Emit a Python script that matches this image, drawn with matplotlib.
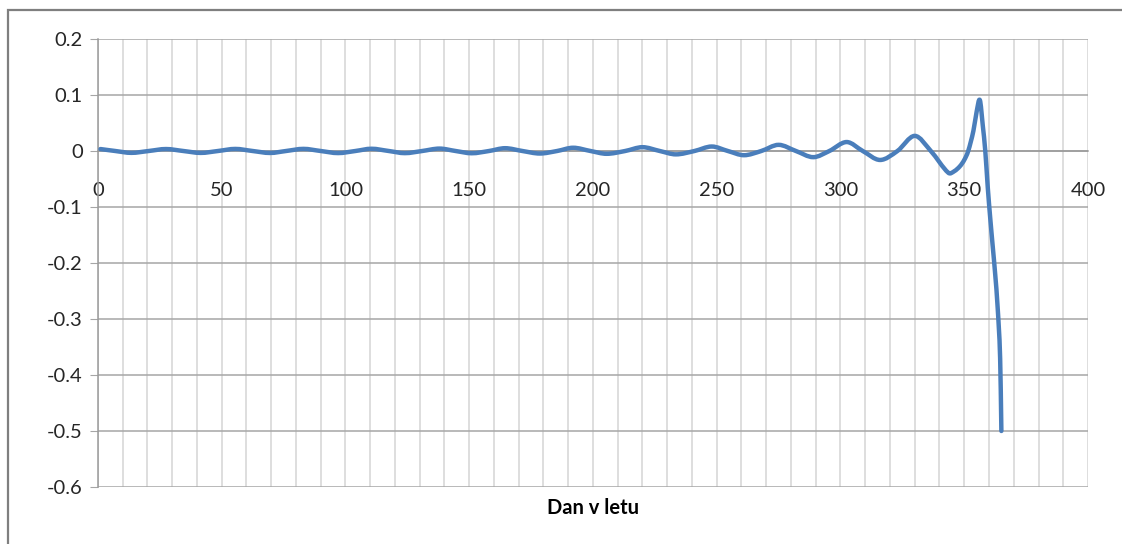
import numpy as np
import matplotlib.pyplot as plt
from matplotlib.path import Path
from matplotlib.patches import PathPatch, Rectangle

# values (day of year -> value)
days = [1, 7, 13.5, 20.5, 27.5, 34.5, 41.5, 48.5, 55.5, 62.5, 69.5, 76, 83, 90,
        97, 104, 110.5, 117.5, 124, 131, 138, 144.5, 151, 158, 164.5, 171.5,
        178.5, 185.5, 192, 199, 205.5, 213, 220, 227, 233.5, 241, 248, 254.5,
        261, 268, 275, 282, 289, 295.5, 302.5, 309, 316, 323, 330, 336.5,
        343.6, 346, 348.3, 350, 351.6, 353.7, 355, 356.3, 357.5, 358.5,
        359.5, 360.5, 361.5, 362.5, 363.5, 364.5, 365]
values = [0.0035, 0, -0.0033, 0, 0.0035, 0, -0.0034, 0, 0.0037, 0, -0.0035, 0,
          0.0038, 0, -0.0037, 0, 0.004, 0, -0.0038, 0, 0.0043, 0, -0.004, 0,
          0.005, 0, -0.0045, 0, 0.0058, 0, -0.005, 0, 0.0068, 0, -0.006, 0,
          0.008, 0, -0.0075, 0, 0.011, 0, -0.011, 0, 0.016, 0, -0.016, 0,
          0.027, 0, -0.039, -0.036, -0.027, -0.016, 0.0, 0.036, 0.07, 0.091,
          0.045, 0.0, -0.065, -0.12, -0.17, -0.22, -0.28, -0.37, -0.5]

x_ticks = [0, 50, 100, 150, 200, 250, 300, 350, 400]
y_ticks = [0.2, 0.1, 0, -0.1, -0.2, -0.3, -0.4, -0.5, -0.6]
y_labels = ['0.2', '0.1', '0', '-0.1', '-0.2', '-0.3', '-0.4', '-0.5', '-0.6']

plt.rcParams['font.family'] = ['Lato', 'DejaVu Sans']


def smooth_path(xs, ys):
    # Excel-like smoothed line: cubic Hermite segments as Bezier curves
    xs = np.asarray(xs, float)
    ys = np.asarray(ys, float)
    n = len(xs)
    m = np.zeros(n)
    for i in range(n):
        a = max(i - 1, 0)
        b = min(i + 1, n - 1)
        m[i] = (ys[b] - ys[a]) / (xs[b] - xs[a])
    verts = [(xs[0], ys[0])]
    codes = [Path.MOVETO]
    for i in range(n - 1):
        h = xs[i + 1] - xs[i]
        verts.append((xs[i] + h / 3, ys[i] + m[i] * h / 3))
        verts.append((xs[i + 1] - h / 3, ys[i + 1] - m[i + 1] * h / 3))
        verts.append((xs[i + 1], ys[i + 1]))
        codes += [Path.CURVE4] * 3
    return Path(verts, codes)


fig = plt.figure(figsize=(11.22, 5.44), dpi=100)
ax = fig.add_axes([0.0873, 0.1048, 0.8824, 0.8235])

ax.set_xlim(0, 400)
ax.set_ylim(-0.6, 0.2)

ax.set_xticks(x_ticks)
ax.set_xticks(np.arange(0, 401, 10), minor=True)
ax.set_yticks(y_ticks)
ax.set_yticklabels(y_labels)

ax.grid(True, which='major', axis='y', color='#a6a6a6', lw=1.1)
ax.grid(True, which='both', axis='x', color='#d4d4d4', lw=1.1)
ax.set_axisbelow(True)

for s in ['top', 'right']:
    ax.spines[s].set_visible(False)
ax.spines['bottom'].set_position(('data', 0))
ax.spines['bottom'].set_color('#9a9a9a')
ax.spines['left'].set_color('#9a9a9a')
ax.spines['left'].set_linewidth(1.1)
ax.spines['bottom'].set_linewidth(1.1)

ax.tick_params(axis='y', length=6, color='#a6a6a6', labelsize=14.5,
               labelcolor='#262626', pad=5)
ax.tick_params(axis='x', which='both', length=0, labelsize=14.5,
               labelcolor='#262626', pad=22)

patch = PathPatch(smooth_path(days, values), facecolor='none',
                  edgecolor='#4a7ebb', lw=3.2, capstyle='round',
                  joinstyle='round', zorder=3)
ax.add_patch(patch)

ax.set_xlabel('Dan v letu', fontsize=14.5, fontweight='bold', color='black')
ax.xaxis.set_label_coords(0.5, -0.025)

# outer chart frame (cut off on the right and bottom as in the reference)
fig.patches.append(Rectangle((8 / 1122, -0.1), 1.2, 1 - 10 / 544 + 0.1,
                             transform=fig.transFigure, fill=False,
                             edgecolor='#7f7f7f', lw=1.6))

fig.savefig('out.png', dpi=100)
